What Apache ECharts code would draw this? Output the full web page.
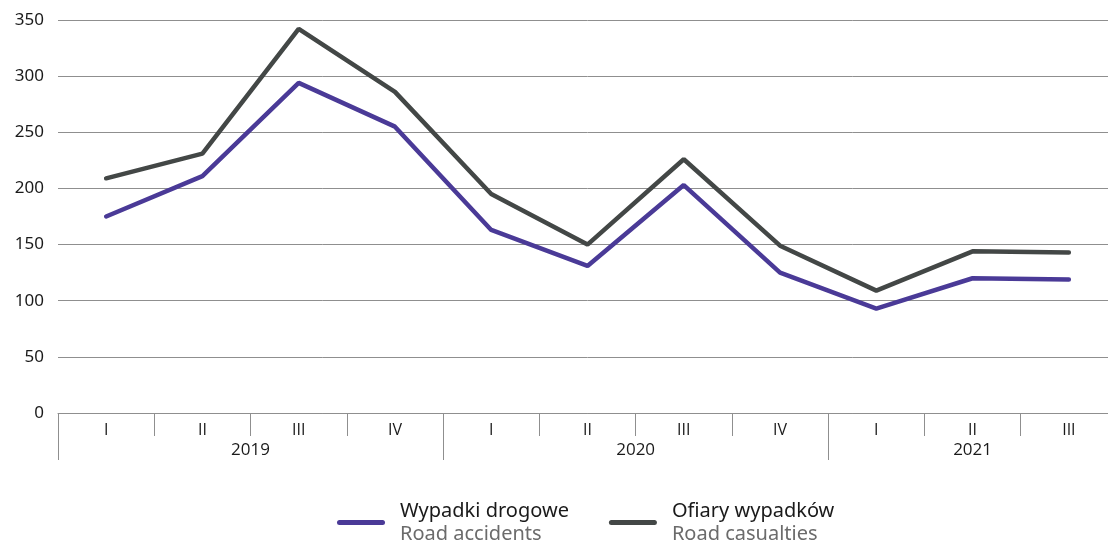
<!DOCTYPE html>
<html>
<head>
<meta charset="utf-8">
<script src="https://cdn.jsdelivr.net/npm/echarts@6/dist/echarts.min.js"></script>
<style>
  html, body { margin: 0; padding: 0; background: #fff; overflow: hidden; }
  #chart { width: 1117px; height: 542px; }
</style>
</head>
<body>
<div id="chart"></div>
<script>
const quarters = ['I', 'II', 'III', 'IV', 'I', 'II', 'III', 'IV', 'I', 'II', 'III'];
const years = ['2019', '2020', '2021'];
const yearCenters = [2, 6, 9.5];
const yearBounds = [0, 4, 8];
const accidents = [175, 211, 294, 255, 163, 131, 203, 125, 93, 120, 119];
const casualties = [209, 231, 342, 286, 195, 150, 226, 149, 109, 144, 143];
const seriesNames = ['Wypadki drogowe', 'Ofiary wypadków'];
const seriesNamesEn = ['Road accidents', 'Road casualties'];

const chart = echarts.init(document.getElementById('chart'));

const lineIcon = 'path://M2.5,0 L45.5,0 A2.5,2.5 0 0 1 45.5,5 L2.5,5 A2.5,2.5 0 0 1 2.5,0 Z';

const option = {
  backgroundColor: '#fff',
  animation: false,
  textStyle: { fontFamily: 'Noto Sans' },
  grid: {
    left: 58,
    right: 0,
    top: 20,
    bottom: 129,
    containLabel: false
  },
  legend: {
    bottom: -7,
    left: 332,
    itemWidth: 48,
    itemHeight: 5,
    itemGap: 40,
    icon: lineIcon,
    data: seriesNames,
    formatter: name => {
      const i = seriesNames.indexOf(name);
      return '{a|' + name + '}\n{b|' + seriesNamesEn[i] + '}';
    },
    textStyle: {
      padding: [0, 0, 0, 10],
      rich: {
        a: { fontSize: 20, color: '#1a1a1a', fontFamily: 'Noto Sans', lineHeight: 23 },
        b: { fontSize: 20, color: '#6b6b6b', fontFamily: 'Noto Sans', lineHeight: 23 }
      }
    }
  },
  xAxis: [
    {
      type: 'category',
      data: quarters,
      boundaryGap: true,
      axisLine: { lineStyle: { color: '#8f8f8f', width: 1 } },
      axisTick: { show: true, interval: 0, length: 23, lineStyle: { color: '#8f8f8f' } },
      axisLabel: { interval: 0, color: '#1a1a1a', fontSize: 16, margin: 9, fontFamily: 'Open Sans' },
      splitLine: { show: false }
    },
    {
      type: 'value',
      min: 0,
      max: 11,
      position: 'bottom',
      axisLine: { show: false },
      axisTick: {
        show: true,
        customValues: yearBounds,
        length: 47,
        lineStyle: { color: '#8f8f8f' }
      },
      axisLabel: {
        customValues: yearCenters,
        formatter: v => years[yearCenters.indexOf(v)],
        color: '#1a1a1a',
        fontSize: 17,
        margin: 29,
        fontFamily: 'Open Sans'
      },
      splitLine: { show: false }
    }
  ],
  yAxis: {
    type: 'value',
    min: 0,
    max: 350,
    interval: 50,
    axisLine: { show: false },
    axisTick: { show: false },
    axisLabel: { color: '#1a1a1a', fontSize: 17, margin: 14 },
    splitLine: { lineStyle: { color: '#8f8f8f', width: 1 } }
  },
  series: [
    {
      name: seriesNames[0],
      type: 'line',
      xAxisIndex: 0,
      data: accidents,
      symbol: 'none',
      itemStyle: { color: '#4a3a97' },
      lineStyle: { color: '#4a3a97', width: 4.5, cap: 'round' }
    },
    {
      name: seriesNames[1],
      type: 'line',
      xAxisIndex: 0,
      data: casualties,
      symbol: 'none',
      itemStyle: { color: '#434746' },
      lineStyle: { color: '#434746', width: 4.5, cap: 'round' }
    }
  ]
};

chart.setOption(option);
</script>
</body>
</html>
